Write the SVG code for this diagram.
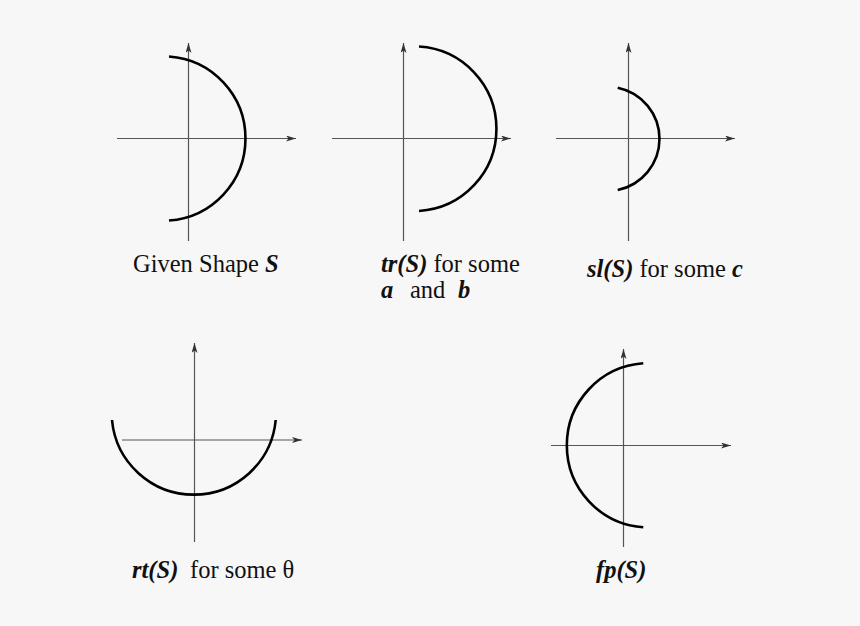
<svg xmlns="http://www.w3.org/2000/svg" width="860" height="626" viewBox="0 0 860 626">
  <defs>
    <marker id="arr" markerUnits="userSpaceOnUse" markerWidth="12" markerHeight="8" refX="10" refY="3" orient="auto">
      <path d="M0,0 L10,3 L0,6 L2.5,3 z" fill="#333"/>
    </marker>
    <style>
      .axis { stroke: #555; stroke-width: 1.2; fill: none; marker-end: url(#arr); }
      .curve { stroke: #000; stroke-width: 2.6; fill: none; }
      .lbl { font-family: "Liberation Serif", "Times New Roman", serif; font-size: 24.5px; fill: #111; }
      .bi { font-weight: bold; font-style: italic; }
    </style>
  </defs>
  <rect x="0" y="0" width="860" height="626" fill="#f7f7f7"/>

  <g id="given-shape">
    <line class="axis" x1="188.5" y1="241" x2="188.5" y2="43"/>
    <line class="axis" x1="117" y1="138.5" x2="296" y2="138.5"/>
    <path class="curve" d="M169,56.5 A82.2,82.2 0 0 1 169,220.5"/>
    <text class="lbl" x="133" y="272">Given Shape <tspan class="bi">S</tspan></text>
  </g>

  <g id="translate">
    <line class="axis" x1="403.5" y1="241" x2="403.5" y2="43"/>
    <line class="axis" x1="332" y1="138.5" x2="511" y2="138.5"/>
    <path class="curve" d="M419,46.5 A82.4,82.4 0 0 1 419,211"/>
    <text class="lbl" x="381" y="272"><tspan class="bi">tr(S)</tspan> for some</text>
    <text class="lbl" x="381" y="298"><tspan class="bi">a</tspan><tspan x="410">and</tspan><tspan class="bi" x="458">b</tspan></text>
  </g>

  <g id="scale">
    <line class="axis" x1="628.5" y1="241" x2="628.5" y2="43"/>
    <line class="axis" x1="556" y1="138.5" x2="735" y2="138.5"/>
    <path class="curve" d="M617.7,87.7 A52.2,52.2 0 0 1 617.7,190"/>
    <text class="lbl" x="587" y="277"><tspan class="bi">sl(S)</tspan> for some <tspan class="bi">c</tspan></text>
  </g>

  <g id="rotate">
    <line class="axis" x1="194.5" y1="542" x2="194.5" y2="343"/>
    <line class="axis" x1="122" y1="440" x2="302" y2="440"/>
    <path class="curve" d="M112,420 A82.2,82.2 0 0 0 275.7,420"/>
    <text class="lbl" x="132" y="578"><tspan class="bi">rt(S)</tspan><tspan x="190">for some θ</tspan></text>
  </g>

  <g id="flip">
    <line class="axis" x1="623.5" y1="547" x2="623.5" y2="349"/>
    <line class="axis" x1="551" y1="445.5" x2="731" y2="445.5"/>
    <path class="curve" d="M643.3,363.3 A82.2,82.2 0 0 0 643.3,527.3"/>
    <text class="lbl bi" x="596" y="578">fp(S)</text>
  </g>

  <g id="connectors"></g>
</svg>
